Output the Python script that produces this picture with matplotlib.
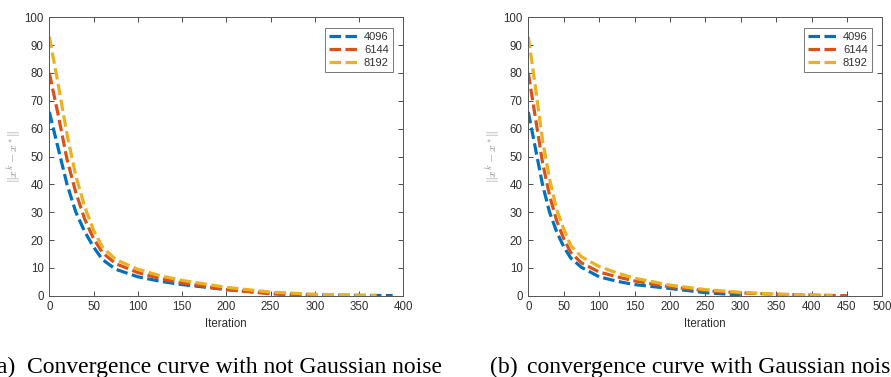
import matplotlib
matplotlib.use("Agg")
import matplotlib.pyplot as plt
import numpy as np

# ---- data ----
series_labels = ["4096", "6144", "8192"]
series_colors = ["#0072BD", "#D95319", "#EDB120"]

# panel (a): not Gaussian noise
a_4096_x = [0, 10, 20, 30, 40, 50, 60, 75, 100, 125, 150, 200, 250, 300, 350, 388]
a_4096_y = [66, 53, 40, 30, 23, 17.5, 13, 9.5, 6.8, 5.2, 4.0, 2.2, 0.9, 0.3, 0.1, 0.05]
a_6144_x = [0, 10, 20, 30, 40, 50, 60, 75, 100, 125, 150, 200, 250, 275, 300]
a_6144_y = [80, 65, 49, 37, 27.5, 20.5, 15.5, 11.5, 8.3, 6.2, 4.6, 2.2, 0.7, 0.2, 0.05]
a_8192_x = [0, 10, 20, 30, 40, 50, 60, 75, 100, 125, 150, 200, 250, 300, 350, 370]
a_8192_y = [93, 76, 58, 43, 32, 23.5, 17.5, 13, 9.5, 7.2, 5.5, 3.0, 1.3, 0.5, 0.2, 0.1]

# panel (b): Gaussian noise
b_4096_x = [0, 10, 20, 30, 40, 50, 60, 75, 100, 125, 150, 200, 250, 300]
b_4096_y = [66, 53, 40, 30, 23, 17.6, 13.5, 10.2, 6.8, 5.2, 4.0, 2.6, 1.1, 0.2]
b_6144_x = [0, 10, 20, 30, 40, 50, 60, 75, 100, 125, 150, 200, 250, 300, 350, 400, 450]
b_6144_y = [80, 64, 48, 36, 27, 20.5, 15.5, 11.8, 8.5, 6.8, 5.3, 3.2, 1.8, 1.0, 0.5, 0.2, 0.0]
b_8192_x = [0, 10, 20, 30, 40, 50, 60, 75, 100, 125, 150, 200, 250, 300, 350, 400, 430]
b_8192_y = [93, 75, 56, 42, 31, 24, 18, 14, 10.5, 8.2, 6.3, 3.8, 2.2, 1.2, 0.6, 0.25, 0.1]

a_xticks = [0, 50, 100, 150, 200, 250, 300, 350, 400]
b_xticks = [0, 50, 100, 150, 200, 250, 300, 350, 400, 450, 500]
yticks = [0, 10, 20, 30, 40, 50, 60, 70, 80, 90, 100]

caption_a = ("(a)", "Convergence curve with not Gaussian noise")
caption_b = ("(b)", "convergence curve with Gaussian noise")

# ---- figure ----
W, H = 891, 377
fig = plt.figure(figsize=(W / 100, H / 100), dpi=100)
plt.rcParams['font.family'] = ['Liberation Sans', 'DejaVu Sans']
plt.rcParams['mathtext.fontset'] = 'cm'

axcol = '#303030'

def make_axes(left_px, data, xticks, xmax):
    ax = fig.add_axes([left_px / W, 1 - 295.7 / H, 354 / W, (295.7 - 17.3) / H])
    for (xs, ys), lab, col in zip(data, series_labels, series_colors):
        ax.plot(xs, ys, color=col, lw=2.3, linestyle=(0, (3.6, 1.4)), label=lab,
                dash_capstyle='butt')
    ax.set_xlim(0, xmax)
    ax.set_ylim(0, 100)
    ax.set_xticks(xticks)
    ax.set_yticks(yticks)
    ax.tick_params(direction='in', top=True, right=True, length=3.5, width=0.6,
                   colors=axcol, labelsize=8.3, pad=4)
    for s in ax.spines.values():
        s.set_color('#555555')
        s.set_linewidth(0.7)
    ax.set_xlabel('Iteration', fontsize=8.3, color=axcol)
    ax.xaxis.label.set_va('center')
    ax.xaxis.set_label_coords(0.5, -(324 - 295.7) / 278.4)
    ax.set_ylabel(r'$\|x^k - x^*\|$', fontsize=8.5, color='#888888')
    ax.yaxis.label.set_va('center')
    ax.yaxis.set_label_coords(-34 / 354, 0.5)
    leg = ax.legend(loc='upper right', fontsize=8, frameon=True, fancybox=False,
                    handlelength=2.9, handletextpad=0.25, borderpad=0.35,
                    labelspacing=0.28, borderaxespad=0.95)
    leg.get_frame().set_edgecolor('#555555')
    leg.get_frame().set_linewidth(0.7)
    for t in leg.get_texts():
        t.set_color(axcol)
    return ax

make_axes(49.3, [(a_4096_x, a_4096_y), (a_6144_x, a_6144_y), (a_8192_x, a_8192_y)],
          a_xticks, 400)
make_axes(528.3, [(b_4096_x, b_4096_y), (b_6144_x, b_6144_y), (b_8192_x, b_8192_y)],
          b_xticks, 500)

cap_kw = dict(fontsize=17, family=['Liberation Serif', 'DejaVu Serif'], color='black', va='baseline')
base_y = 1 - 373 / H
fig.text(15 / W, base_y, caption_a[0], ha='right', **cap_kw)
fig.text(26.7 / W, base_y, caption_a[1], ha='left', **cap_kw)
fig.text(490 / W, base_y, caption_b[0], ha='left', **cap_kw)
fig.text(527.3 / W, base_y, caption_b[1], ha='left', **cap_kw)

fig.savefig('out.png', dpi=100)
